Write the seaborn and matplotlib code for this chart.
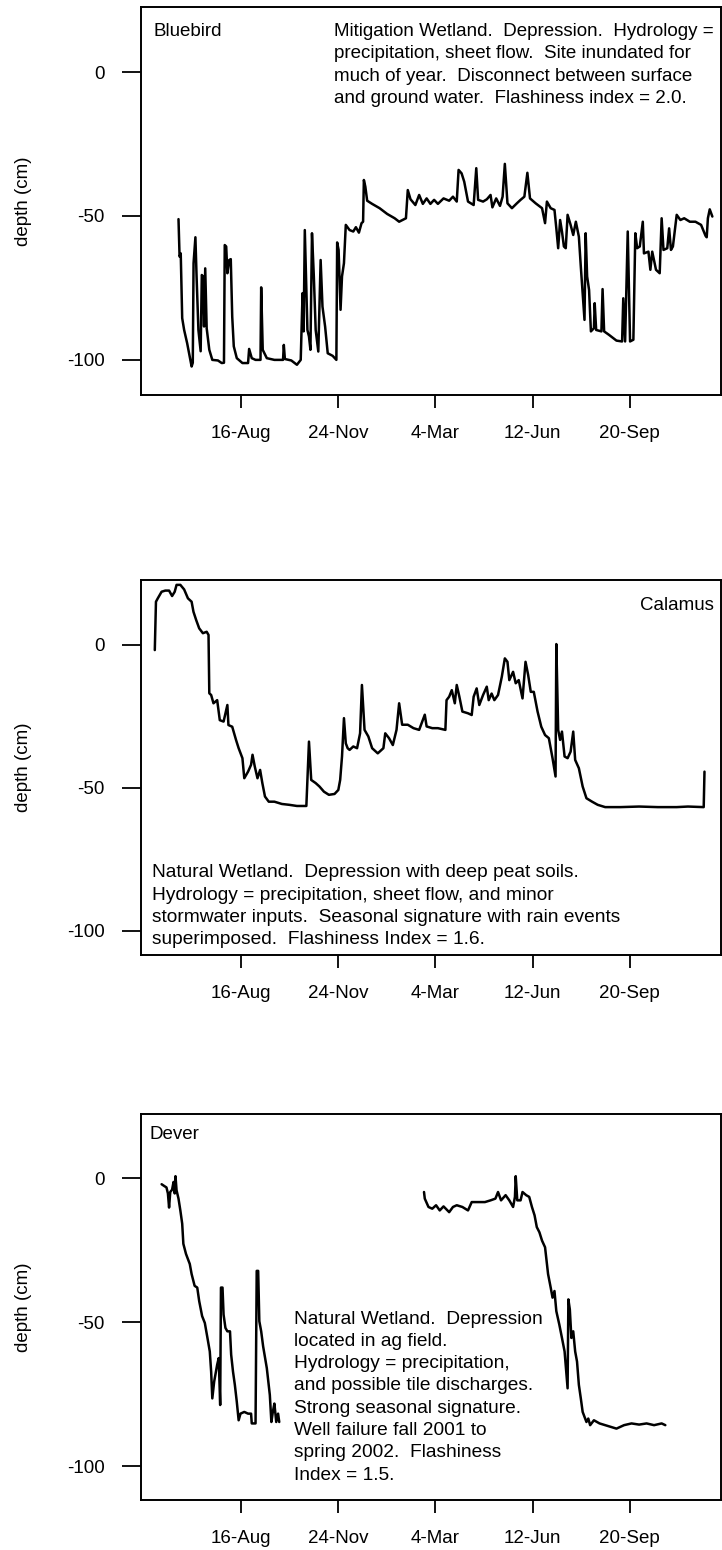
import matplotlib
matplotlib.use("Agg")
import matplotlib.pyplot as plt
import numpy as np
import pandas as pd
import seaborn as sns

# ---------------- data (x = days since 16-Aug-2001, y = depth in cm) ----------------
tick_days = [0, 100, 200, 300, 400]
tick_labels = ["16-Aug", "24-Nov", "4-Mar", "12-Jun", "20-Sep"]
y_ticks = [0, -50, -100]
y_tick_labels = ["0", "-50", "-100"]

bluebird_day = [
    -64.4, -63.3, -62.1, -60.6, -58.6, -55.5, -50.9, -49.7, -48.9, -47.0,
    -45.8, -43.9, -41.6, -40.4, -39.3, -38.1, -36.9, -35.4, -32.7, -29.6,
    -23.8, -19.9, -17.6, -16.8, -15.3, -14.1, -12.2, -10.6, -9.1, -7.5,
    -4.4, 1.4, 7.2, 8.3, 11.0, 14.9, 20.0, 20.7, 22.3, 26.5,
    34.3, 43.2, 44.0, 45.1, 51.7, 57.5, 61.4, 63.3, 64.4, 65.6,
    67.2, 68.3, 69.9, 71.4, 73.0, 74.9, 76.8, 79.5, 81.9, 83.8,
    86.5, 89.2, 94.3, 98.1, 98.9, 100.4, 102.4, 103.9, 105.9, 107.8,
    111.7, 115.5, 118.2, 121.3, 124.0, 125.6, 126.4, 127.9, 129.8, 134.9,
    142.6, 150.4, 158.1, 162.7, 169.7, 171.6, 174.4, 179.4, 183.3, 187.1,
    191.0, 194.9, 198.7, 202.6, 208.4, 214.2, 218.1, 222.0, 223.9, 227.0,
    229.7, 233.6, 239.4, 242.1, 244.0, 249.1, 253.0, 256.8, 258.7, 262.6,
    266.5, 269.2, 271.5, 274.2, 278.8, 283.9, 287.7, 291.6, 294.7, 297.4,
    303.2, 309.8, 312.9, 314.8, 318.7, 322.6, 324.5, 326.4, 328.4, 330.3,
    332.3, 334.2, 336.1, 339.2, 341.9, 344.6, 347.7, 349.7, 351.6, 353.5,
    354.7, 356.2, 358.2, 360.1, 363.2, 364.0, 365.5, 370.9, 372.1, 373.7,
    378.7, 386.4, 392.2, 393.4, 395.3, 398.0, 400.4, 403.8, 405.8, 407.7,
    410.4, 413.5, 414.7, 419.3, 421.3, 423.2, 427.1, 430.9, 432.9, 434.8,
    438.7, 440.6, 442.5, 444.5, 448.4, 452.2, 456.1, 461.9, 467.7, 473.5,
    478.1, 479.3, 480.5, 482.4, 485.1,
]
bluebird_depth = [
    -51.1, -64.1, -63.0, -85.5, -89.6, -94.2, -102.3, -101.0, -66.4, -57.4,
    -71.0, -89.6, -97.0, -70.5, -71.0, -88.4, -68.2, -89.0, -96.5, -100.0,
    -100.2, -101.1, -101.0, -60.1, -60.6, -69.9, -65.3, -65.0, -85.0, -95.3,
    -99.4, -101.1, -101.1, -96.2, -99.4, -100.0, -100.0, -74.8, -96.5, -99.4,
    -100.0, -100.0, -94.8, -99.7, -100.2, -101.7, -100.0, -76.8, -90.1, -54.9,
    -75.7, -89.6, -91.9, -96.5, -56.0, -71.0, -89.6, -97.1, -65.3, -81.5,
    -88.4, -97.7, -98.6, -100.0, -59.2, -61.8, -82.6, -71.0, -66.4, -53.1,
    -54.9, -55.4, -53.9, -55.8, -52.5, -52.0, -37.5, -39.8, -44.7, -45.8,
    -47.3, -49.3, -50.8, -52.0, -50.8, -41.0, -44.2, -46.2, -42.7, -45.8,
    -43.9, -45.8, -44.4, -45.8, -43.9, -44.7, -43.3, -45.0, -34.0, -35.2,
    -38.1, -45.0, -46.2, -33.4, -44.4, -45.0, -44.2, -42.7, -47.0, -43.9,
    -46.5, -43.3, -31.9, -45.6, -47.3, -45.6, -44.4, -43.3, -35.0, -43.9,
    -45.6, -47.3, -52.5, -45.0, -47.3, -47.9, -54.3, -61.2, -51.4, -55.4,
    -60.6, -61.2, -49.6, -53.1, -56.6, -52.0, -57.2, -67.6, -76.8, -86.1,
    -56.0, -71.0, -75.7, -90.1, -89.0, -80.3, -89.6, -90.1, -75.4, -90.1,
    -91.3, -93.3, -93.6, -78.6, -93.6, -55.4, -93.6, -93.0, -56.0, -61.2,
    -60.6, -52.0, -63.0, -62.4, -68.7, -62.4, -68.7, -69.9, -50.8, -61.8,
    -61.2, -54.3, -61.8, -60.6, -49.6, -51.4, -50.8, -52.0, -52.0, -53.1,
    -56.9, -57.4, -50.8, -47.7, -50.2,
]

calamus_day = [
    -88.8, -87.6, -85.7, -81.8, -78.0, -74.1, -71.0, -68.3, -66.4, -62.5,
    -58.6, -54.7, -50.9, -49.0, -46.2, -43.1, -39.3, -35.4, -33.5, -32.7,
    -30.8, -28.4, -24.6, -21.9, -18.0, -14.1, -13.0, -9.1, -5.2, -2.5,
    1.4, 3.3, 7.2, 10.3, 11.8, 14.1, 16.9, 19.6, 21.9, 24.6,
    28.5, 34.3, 42.0, 49.7, 57.5, 67.2, 69.9, 72.2, 76.8, 80.7,
    85.3, 90.4, 96.2, 100.1, 102.0, 103.9, 105.9, 107.8, 109.7, 111.7,
    115.5, 119.4, 122.5, 124.4, 127.1, 131.0, 134.9, 140.7, 146.5, 148.4,
    152.3, 156.2, 160.0, 162.7, 165.8, 171.6, 177.5, 183.3, 189.1, 191.0,
    196.8, 202.6, 210.3, 211.5, 214.2, 216.9, 220.0, 222.0, 224.7, 227.8,
    233.6, 237.4, 239.4, 242.5, 245.2, 249.1, 252.9, 254.9, 257.9, 260.7,
    264.5, 268.4, 271.5, 274.2, 276.1, 280.0, 282.7, 285.8, 289.7, 292.8,
    295.5, 298.2, 301.3, 305.2, 309.0, 312.9, 316.8, 320.6, 323.7, 324.5,
    326.4, 328.4, 330.3, 333.0, 336.1, 339.2, 341.9, 343.9, 347.7, 351.6,
    355.5, 361.3, 367.1, 374.8, 390.3, 409.7, 429.0, 448.3, 460.0, 476.2,
    477.0,
]
calamus_depth = [
    -1.8, 15.1, 16.3, 18.6, 19.0, 19.0, 17.1, 18.6, 21.0, 21.0,
    19.4, 16.3, 15.1, 11.6, 8.7, 5.8, 4.1, 4.6, 3.5, -16.9,
    -17.5, -20.4, -19.3, -26.3, -26.8, -21.0, -28.0, -28.6, -33.2, -36.1,
    -39.6, -46.6, -44.3, -41.9, -38.4, -42.5, -46.6, -43.7, -48.3, -53.0,
    -54.8, -54.8, -55.6, -55.9, -56.3, -56.3, -33.8, -47.2, -48.3, -49.5,
    -51.3, -52.4, -52.1, -50.7, -47.2, -39.0, -25.6, -34.4, -36.1, -36.7,
    -35.5, -36.1, -30.9, -14.0, -29.7, -32.0, -36.1, -37.9, -36.1, -30.9,
    -32.6, -35.0, -29.7, -20.4, -27.9, -27.9, -29.1, -29.7, -24.4, -28.5,
    -29.1, -29.1, -29.7, -19.3, -18.1, -15.8, -20.4, -14.0, -18.1, -23.3,
    -23.9, -24.5, -18.1, -15.2, -21.0, -17.5, -14.6, -19.3, -17.0, -19.3,
    -17.5, -11.1, -4.7, -5.9, -12.3, -9.4, -13.4, -12.3, -18.7, -5.9,
    -10.5, -16.4, -16.4, -23.3, -28.6, -31.5, -32.6, -39.6, -46.0, 0.3,
    -29.7, -33.2, -30.3, -39.0, -39.6, -37.3, -30.3, -40.2, -43.1, -49.5,
    -53.6, -54.8, -55.9, -56.7, -56.7, -56.5, -56.7, -56.7, -56.5, -56.7,
    -44.3,
]

# Dever: record before the well failure (a) and after (b)
dever_day_a = [
    -81.8, -78.7, -76.8, -75.3, -74.1, -72.9, -71.0, -69.5, -68.3, -67.5,
    -66.4, -64.4, -62.5, -60.6, -59.4, -56.7, -54.7, -52.8, -50.9, -47.8,
    -45.1, -43.1, -40.1, -37.3, -34.6, -32.2, -30.8, -29.6, -27.7, -24.6,
    -23.0, -21.5, -20.7, -19.1, -18.0, -16.1, -14.1, -11.4, -10.2, -8.3,
    -6.4, -4.4, -2.5, -0.6, 3.3, 7.2, 10.3, 11.0, 14.9, 16.1,
    17.6, 18.8, 20.7, 22.7, 26.5, 29.6, 31.2, 32.7, 34.3, 36.2,
    38.1, 39.3,
]
dever_depth_a = [
    -2.1, -2.8, -3.2, -5.3, -10.2, -4.8, -4.0, -1.3, -5.3, 0.7,
    -4.2, -7.1, -11.2, -15.8, -22.8, -26.3, -28.1, -29.8, -33.3, -37.4,
    -38.0, -42.7, -47.9, -50.3, -55.5, -60.2, -67.2, -76.5, -70.7, -64.8,
    -62.5, -78.8, -38.0, -38.0, -47.4, -52.0, -53.2, -53.2, -61.3, -67.2,
    -71.8, -77.7, -84.1, -81.8, -81.2, -81.8, -81.8, -85.2, -85.2, -32.2,
    -32.2, -49.7, -53.2, -58.4, -66.0, -75.3, -84.7, -81.2, -78.3, -84.7,
    -81.8, -84.7,
]
dever_day_b = [
    188.3, 189.1, 192.9, 196.8, 200.7, 204.5, 208.4, 214.2, 218.1, 222.0,
    227.8, 233.6, 237.4, 243.2, 251.0, 256.8, 261.8, 264.5, 267.6, 272.3,
    276.1, 280.0, 281.9, 282.7, 284.3, 287.7, 289.7, 293.5, 296.6, 299.4,
    302.1, 304.4, 307.1, 309.8, 312.9, 316.0, 318.7, 320.6, 322.6, 324.5,
    327.6, 330.3, 333.0, 336.1, 336.9, 338.4, 340.0, 341.9, 343.9, 345.8,
    347.7, 349.7, 351.6, 355.5, 357.4, 359.3, 363.2, 369.0, 374.8, 386.4,
    394.2, 401.9, 409.7, 417.4, 425.1, 432.9, 436.7,
]
dever_depth_b = [
    -4.8, -7.1, -10.0, -10.6, -9.4, -11.2, -9.8, -11.8, -10.0, -9.4,
    -10.0, -11.2, -8.3, -8.3, -8.3, -7.7, -7.1, -4.8, -7.7, -5.9,
    -7.7, -10.0, -6.5, 0.7, -7.7, -7.7, -4.8, -5.9, -6.5, -10.0,
    -12.9, -17.0, -18.8, -21.7, -24.0, -33.3, -38.0, -41.5, -39.2, -46.2,
    -50.9, -55.5, -60.2, -73.0, -42.1, -45.6, -55.5, -53.2, -60.2, -63.7,
    -71.8, -76.5, -81.2, -84.7, -83.5, -85.8, -84.1, -85.2, -85.8, -87.0,
    -85.8, -85.2, -85.6, -85.2, -85.8, -85.2, -85.8,
]

bluebird_title = "Bluebird"
bluebird_note = [
    "Mitigation Wetland.  Depression.  Hydrology =",
    "precipitation, sheet flow.  Site inundated for",
    "much of year.  Disconnect between surface",
    "and ground water.  Flashiness index = 2.0.",
]
calamus_title = "Calamus"
calamus_note = [
    "Natural Wetland.  Depression with deep peat soils.",
    "Hydrology = precipitation, sheet flow, and minor",
    "stormwater inputs.  Seasonal signature with rain events",
    "superimposed.  Flashiness Index = 1.6.",
]
dever_title = "Dever"
dever_note = [
    "Natural Wetland.  Depression",
    "located in ag field.",
    "Hydrology = precipitation,",
    "and possible tile discharges.",
    "Strong seasonal signature.",
    "Well failure fall 2001 to",
    "spring 2002.  Flashiness",
    "Index = 1.5.",
]

# ---------------- style ----------------
sns.set_style("white", {
    "axes.edgecolor": "black", "text.color": "black",
    "xtick.color": "black", "ytick.color": "black",
    "axes.labelcolor": "black",
})
plt.rcParams["font.family"] = ["Liberation Sans", "DejaVu Sans"]
plt.rcParams["axes.unicode_minus"] = False

FS = 13.5
NOTE_FS = 13.8
W, H = 722, 1550
fig = plt.figure(figsize=(W / 100, H / 100), dpi=100)


def frac_rect(left, top, right, bottom):
    return [left / W, 1 - bottom / H, (right - left) / W, (bottom - top) / H]


def make_df(segments):
    frames = []
    for i, (d, v) in enumerate(segments):
        frames.append(pd.DataFrame({"day": d, "depth": v, "seg": i}))
    return pd.concat(frames, ignore_index=True)


panels = [
    dict(rect=frac_rect(141, 7, 721, 395), ylim=(-112.2, 22.6),
         df=make_df([(bluebird_day, bluebird_depth)]),
         title=bluebird_title, title_xy=(0.022, 0.936), title_ha="left",
         note=bluebird_note, note_x=0.333, note_fs=13.5,
         note_y=[0.936, 0.879, 0.822, 0.765]),
    dict(rect=frac_rect(141, 580, 721, 955), ylim=(-108.4, 22.7),
         df=make_df([(calamus_day, calamus_depth)]),
         title=calamus_title, title_xy=(0.988, 0.933), title_ha="right",
         note=calamus_note, note_x=0.019, note_fs=NOTE_FS,
         note_y=[0.221, 0.160, 0.099, 0.040]),
    dict(rect=frac_rect(141, 1114, 721, 1500), ylim=(-111.8, 22.3),
         df=make_df([(dever_day_a, dever_depth_a), (dever_day_b, dever_depth_b)]),
         title=dever_title, title_xy=(0.014, 0.946), title_ha="left",
         note=dever_note, note_x=0.264, note_fs=NOTE_FS,
         note_y=[(1500 - (1319 + 22.3 * k)) / 386 for k in range(8)]),
]

for p in panels:
    ax = fig.add_axes(p["rect"])
    sns.lineplot(data=p["df"], x="day", y="depth", units="seg", estimator=None,
                 sort=False, color="black", linewidth=1.8, legend=False, ax=ax)
    ax.set_xlim(-103, 494)
    ax.set_ylim(*p["ylim"])
    ax.set_xticks(tick_days)
    ax.set_xticklabels(tick_labels)
    ax.set_yticks(y_ticks)
    ax.set_yticklabels(y_tick_labels)
    ax.tick_params(axis="y", left=True, direction="out", length=14, width=1.3,
                   pad=12, labelsize=FS)
    ax.tick_params(axis="x", bottom=True, direction="out", length=9.5, width=1.3,
                   pad=12, labelsize=FS)
    for s in ax.spines.values():
        s.set_visible(True)
        s.set_linewidth(1.4)
        s.set_color("black")
    ax.set_xlabel("")
    ax.set_ylabel("depth (cm)", fontsize=FS)
    ax.yaxis.set_label_coords(-0.188, 0.5)

    tx, ty = p["title_xy"]
    ax.text(tx, ty, p["title"], transform=ax.transAxes, ha=p["title_ha"],
            va="center", fontsize=FS)
    for line, y in zip(p["note"], p["note_y"]):
        ax.text(p["note_x"], y, line, transform=ax.transAxes, ha="left",
                va="center", fontsize=p["note_fs"])

fig.savefig("out.png", dpi=100)
